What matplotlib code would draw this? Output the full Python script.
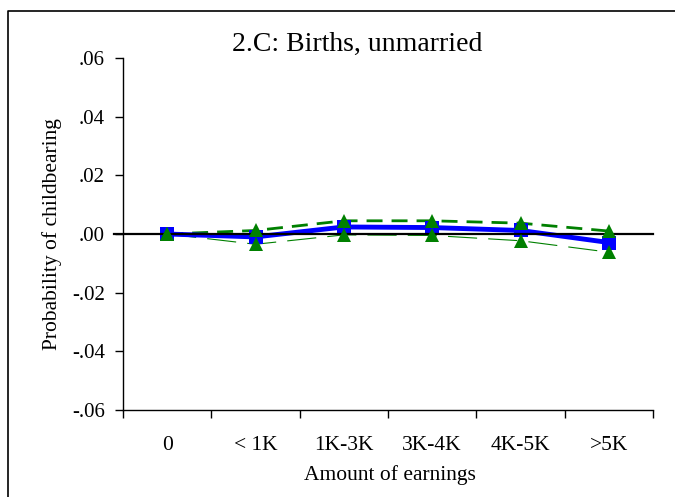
import numpy as np
import matplotlib
matplotlib.use('Agg')
import matplotlib.pyplot as plt
from matplotlib.lines import Line2D

plt.rcParams['font.family'] = ['Liberation Serif', 'DejaVu Serif']
plt.rcParams['lines.scale_dashes'] = False

# Data
categories = ['0', '< 1K', '1K-3K', '3K-4K', '4K-5K', '>5K']
estimate = [0.0, -0.0010, 0.0024, 0.0022, 0.0012, -0.0029]
upper_ci = [0.0, 0.0012, 0.0045, 0.0045, 0.0037, 0.0010]
lower_ci = [0.0, -0.0035, -0.0003, -0.0005, -0.0023, -0.0062]
yticks = [-0.06, -0.04, -0.02, 0.0, 0.02, 0.04, 0.06]
yticklabels = ['-.06', '-.04', '-.02', '.00', '.02', '.04', '.06']

x = np.arange(len(categories))

fig = plt.figure(figsize=(6.75, 4.97), dpi=100)
ax = fig.add_axes([123 / 675, 1 - 410 / 497, 530 / 675, 352 / 497])

# outer frame (left and top edges visible)
fig.add_artist(Line2D([8 / 675, 8 / 675, 1.0], [0.0, 1 - 11 / 497, 1 - 11 / 497],
                      transform=fig.transFigure, color='black', lw=1.2))

# confidence bands
ax.plot(x, upper_ci, color='#008000', lw=2.0, dashes=(11.5, 6.5), zorder=2)
ax.plot(x, lower_ci, color='#008000', lw=0.8, dashes=(21, 8), zorder=2)

# point estimates
ax.plot(x, estimate, color='#0000FF', lw=3.5, marker='s', markersize=10,
        markeredgewidth=0, zorder=3)

# zero line
ax.plot([-9 / 530, 1.0], [0.5, 0.5], transform=ax.transAxes, color='black',
        lw=1.6, clip_on=False, zorder=4)

ax.plot(x, upper_ci, ls='none', marker='^', color='#008000', markersize=9.5,
        markeredgewidth=0, zorder=5)
ax.plot(x, lower_ci, ls='none', marker='^', color='#008000', markersize=9.5,
        markeredgewidth=0, zorder=5)

ax.set_xlim(-0.5, len(categories) - 0.5)
ax.set_ylim(-0.06, 0.06)

ax.set_xticks(np.arange(-0.5, len(categories), 1.0))
ax.set_xticklabels([])
ax.set_xticks(x, minor=True)
ax.set_xticklabels(categories, minor=True)
ax.tick_params(axis='x', which='major', direction='out', length=6, width=1)
ax.tick_params(axis='x', which='minor', length=0, pad=19, labelsize=15.5)

ax.set_yticks(yticks)
ax.set_yticklabels(yticklabels)
ax.tick_params(axis='y', direction='out', length=6, width=1, pad=7, labelsize=15)

for side in ['top', 'right']:
    ax.spines[side].set_visible(False)
for side in ['left', 'bottom']:
    ax.spines[side].set_linewidth(1.0)

fig.text(52 / 675, 1 - 234 / 497, 'Probability of childbearing', rotation=90,
         ha='center', va='center', fontsize=15.5)
fig.text(390 / 675, 1 - 475 / 497, 'Amount of earnings', ha='center', va='center',
         fontsize=15.5)
fig.text(357 / 675, 1 - 44 / 497, '2.C: Births, unmarried', ha='center', va='center',
         fontsize=20)

fig.savefig('out.png', dpi=100)
